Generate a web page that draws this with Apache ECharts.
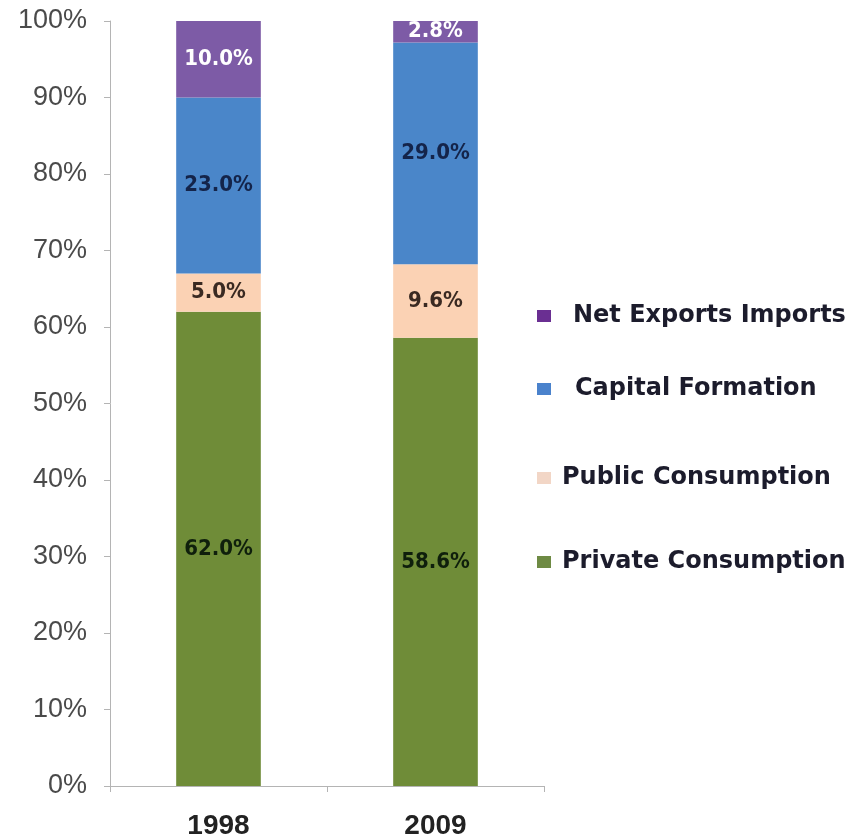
<!DOCTYPE html>
<html>
<head>
<meta charset="utf-8">
<script src="https://cdn.jsdelivr.net/npm/echarts@6/dist/echarts.min.js"></script>
<style>
  html, body { margin: 0; padding: 0; background: #fff; }
  #chart { width: 858px; height: 840px; }
</style>
</head>
<body>
<div id="chart"></div>
<script>
var years = ['1998', '2009'];
var privateConsumption = [62.0, 58.6];
var publicConsumption = [5.0, 9.6];
var capitalFormation = [23.0, 29.0];
var netExports = [10.0, 2.8];
var yTicks = [0, 10, 20, 30, 40, 50, 60, 70, 80, 90, 100];

var chart = echarts.init(document.getElementById('chart'));

var labelFont = "'DejaVu Sans Condensed', 'Liberation Sans Narrow', sans-serif";

function barSeries(name, values, color, labelColor) {
  return {
    name: name,
    type: 'bar',
    stack: 'total',
    barWidth: '39%',
    data: values,
    itemStyle: { color: color },
    label: {
      show: true,
      position: 'inside',
      formatter: function (p) { return p.value.toFixed(1) + '%'; },
      color: labelColor,
      fontFamily: labelFont,
      fontWeight: 'bold',
      fontSize: 22
    }
  };
}

function legendAt(name, top, pad, color) {
  return {
    data: [{ name: name, icon: 'rect', itemStyle: { color: color } }],
    left: 532,
    top: top,
    itemWidth: 14,
    itemHeight: 12,
    selectedMode: false,
    textStyle: {
      fontFamily: 'DejaVu Sans, sans-serif',
      fontWeight: 'bold',
      fontSize: 24,
      color: '#1c1c2c',
      padding: [0, 0, 0, pad]
    }
  };
}

var option = {
  backgroundColor: '#fff',
  animation: false,
  grid: { left: 110, right: 314, top: 21, bottom: 53 },
  legend: [
    legendAt('Net Exports Imports', 299, 17, '#6a2f92'),
    legendAt('Capital Formation', 372, 19, '#4a82cc'),
    legendAt('Public Consumption', 461, 6, '#f2d6c6'),
    legendAt('Private Consumption', 545, 6, '#6e8a44')
  ],
  xAxis: {
    type: 'category',
    data: years,
    axisLine: { lineStyle: { color: '#b4b4b4' } },
    axisTick: { show: true, length: 6, lineStyle: { color: '#b4b4b4' } },
    axisLabel: {
      margin: 26,
      fontFamily: 'Liberation Sans, Arial, sans-serif',
      fontWeight: 'bold',
      fontSize: 28,
      color: '#222'
    }
  },
  yAxis: {
    type: 'value',
    min: 0,
    max: 100,
    interval: 10,
    axisLine: { show: true, lineStyle: { color: '#b4b4b4' } },
    axisTick: { show: true, length: 6, lineStyle: { color: '#b4b4b4' } },
    splitLine: { show: false },
    axisLabel: {
      margin: 23,
      formatter: function (v) { return yTicks.indexOf(v) >= 0 ? v + '%' : ''; },
      fontFamily: 'Liberation Sans, Arial, sans-serif',
      fontSize: 27,
      color: '#4a4a4a'
    }
  },
  series: [
    barSeries('Private Consumption', privateConsumption, '#6f8c38', '#0f1f0c'),
    barSeries('Public Consumption', publicConsumption, '#fbd2b4', '#3a2a22'),
    barSeries('Capital Formation', capitalFormation, '#4a86c9', '#14244a'),
    barSeries('Net Exports Imports', netExports, '#7d5ba6', '#ffffff')
  ]
};

chart.setOption(option);
</script>
</body>
</html>
